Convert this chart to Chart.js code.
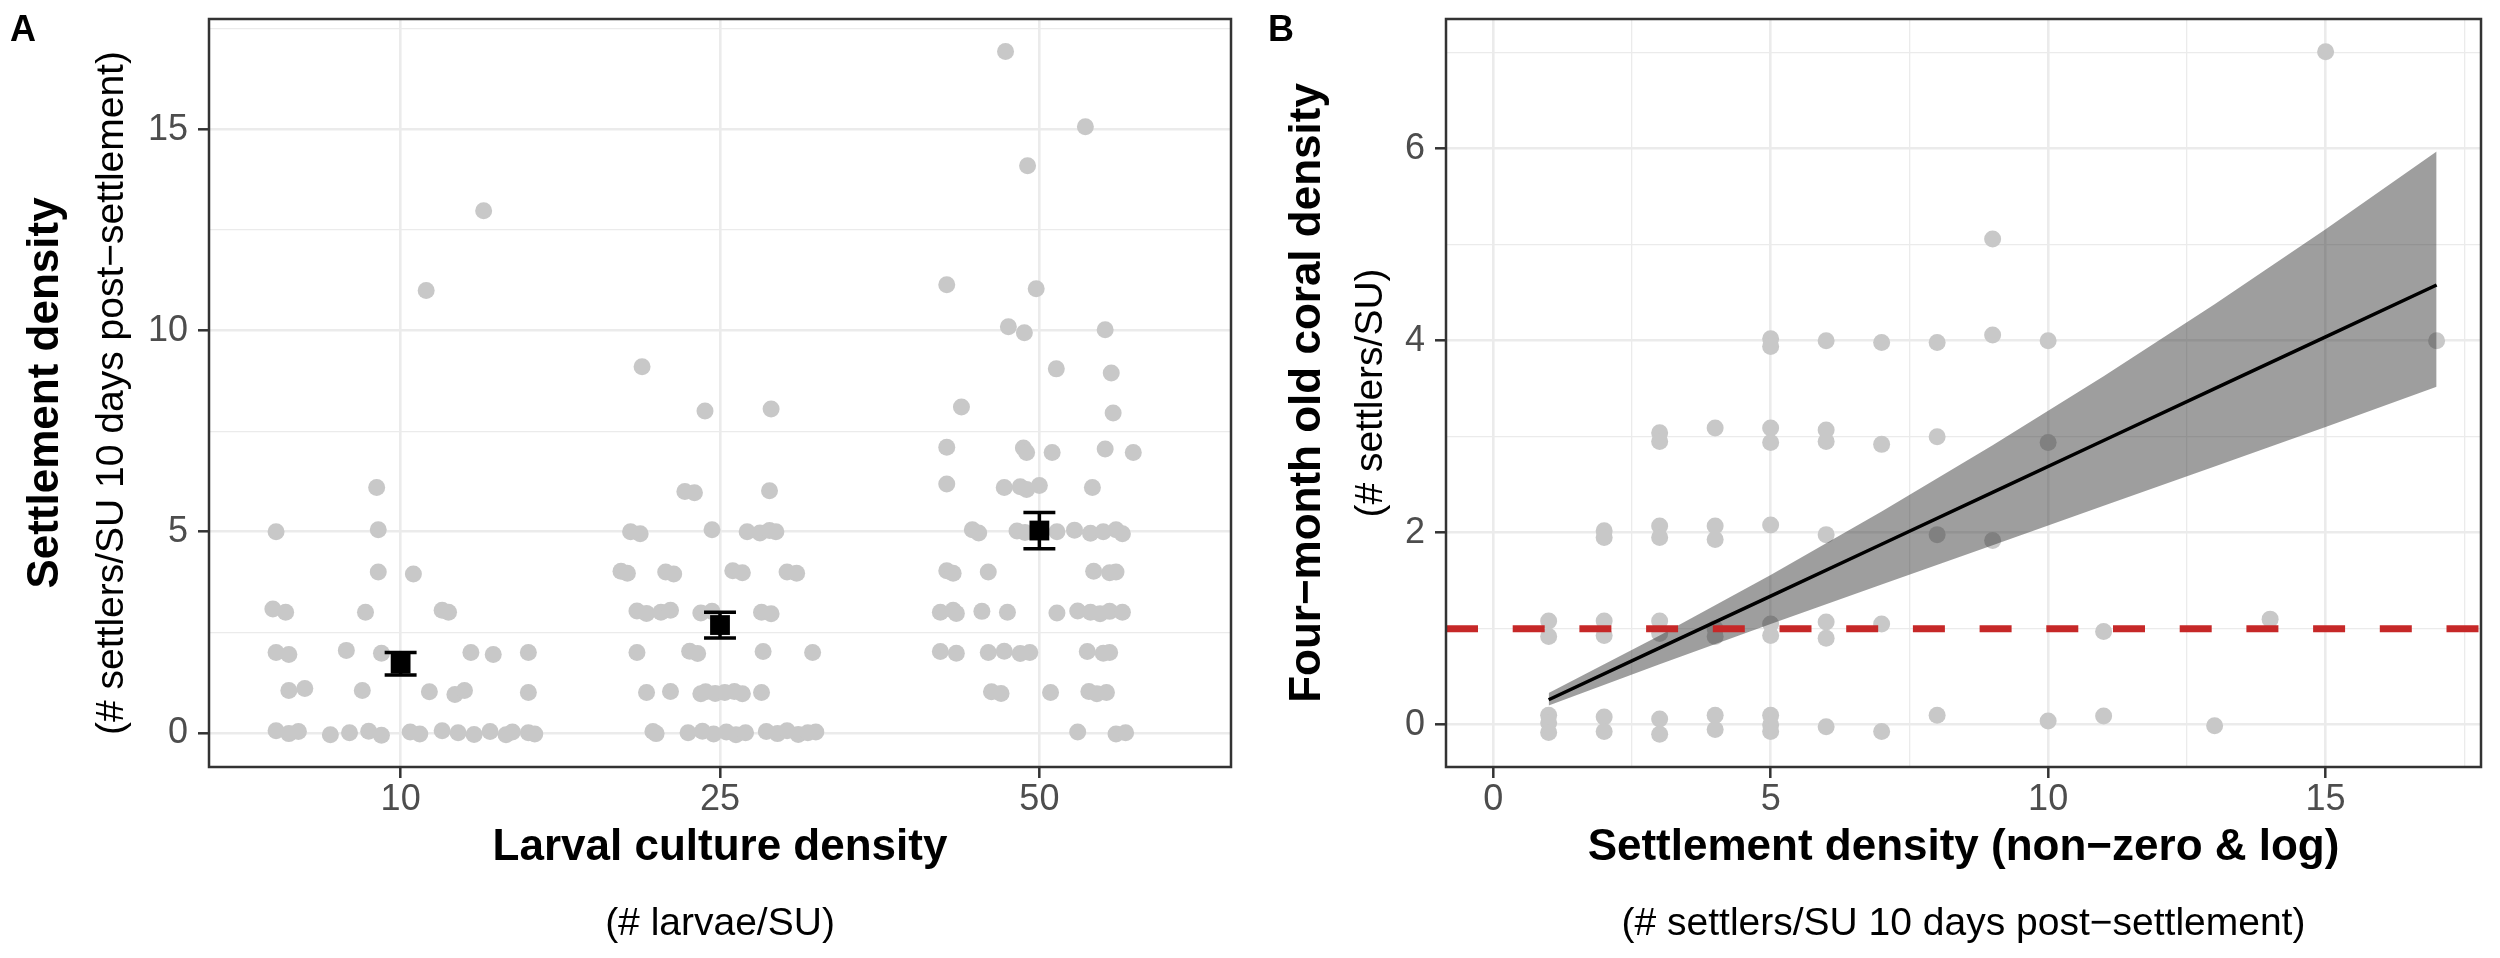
<!DOCTYPE html>
<html><head><meta charset="utf-8">
<script src="https://cdn.jsdelivr.net/npm/chart.js@4.4.1/dist/chart.umd.min.js"></script>
<style>
html,body{margin:0;padding:0;background:#fff;width:2500px;height:958px;overflow:hidden}
canvas{position:absolute;top:0}
#ca{left:0}
#cb{left:1260px}
</style></head><body>
<canvas id="ca" width="1260" height="958"></canvas>
<canvas id="cb" width="1240" height="958"></canvas>
<script>
// ---------- Panel A data ----------
const categories = ['10', '25', '50'];
const g10dx = [0.26, 0.08, -0.075, -0.39, -0.07, -0.07, 0.04, -0.40, -0.36, -0.11, 0.13, 0.15, -0.39, -0.35, -0.17, -0.06, 0.22, 0.29, 0.40, -0.35, -0.30, -0.12, 0.09, 0.17, 0.20, 0.40, -0.39, -0.35, -0.32, -0.22, -0.16, -0.10, -0.06, 0.03, 0.06, 0.13, 0.18, 0.23, 0.28, 0.33, 0.35, 0.40, 0.42];
const g10y  = [12.98, 11.0, 6.1, 5.0, 5.05, 4.0, 3.95, 3.08, 3.0, 3.0, 3.05, 3.0, 2.0, 1.95, 2.05, 1.98, 2.0, 1.95, 2.0, 1.05, 1.1, 1.05, 1.02, 0.95, 1.05, 1.0, 0.05, -0.02, 0.03, -0.05, 0.0, 0.04, -0.06, 0.02, -0.03, 0.05, 0.0, -0.04, 0.03, -0.05, 0.02, 0.0, -0.03];
const g25dx = [-0.244, -0.047, 0.16, -0.11, -0.08, 0.155, -0.28, -0.25, -0.025, 0.085, 0.125, 0.155, 0.175, -0.31, -0.29, -0.17, -0.145, 0.04, 0.07, 0.21, 0.24, -0.26, -0.23, -0.185, -0.155, -0.06, -0.025, 0.13, 0.16, -0.26, -0.095, -0.07, 0.135, 0.29, -0.23, -0.155, -0.06, -0.045, -0.015, 0.015, 0.045, 0.07, 0.13, -0.21, -0.2, -0.1, -0.055, -0.02, 0.02, 0.05, 0.08, 0.145, 0.18, 0.21, 0.245, 0.275, 0.3];
const g25y  = [9.1, 8.0, 8.05, 6.0, 5.97, 6.02, 5.0, 4.95, 5.05, 5.0, 4.97, 5.03, 5.0, 4.02, 3.97, 4.0, 3.95, 4.03, 3.98, 4.0, 3.97, 3.03, 2.97, 3.0, 3.05, 2.98, 3.02, 3.0, 2.96, 2.0, 2.03, 1.97, 2.02, 2.0, 1.0, 1.03, 0.97, 1.02, 0.98, 1.0, 1.03, 0.97, 1.0, 0.03, -0.02, 0.0, 0.04, -0.03, 0.02, -0.05, 0.0, 0.03, -0.02, 0.05, -0.04, 0.0, 0.02];
const g50dx = [-0.106, 0.144, -0.037, -0.29, -0.01, -0.097, -0.047, 0.206, 0.053, 0.225, -0.244, 0.231, -0.29, -0.05, -0.04, 0.04, 0.206, 0.294, -0.29, -0.11, -0.06, -0.04, 0.0, 0.166, -0.21, -0.19, -0.07, -0.045, 0.055, 0.11, 0.16, 0.2, 0.24, 0.26, -0.29, -0.27, -0.16, 0.17, 0.22, 0.24, -0.31, -0.27, -0.26, -0.18, -0.10, 0.055, 0.12, 0.16, 0.19, 0.22, 0.26, -0.31, -0.26, -0.16, -0.11, -0.06, -0.03, 0.15, 0.2, 0.22, -0.15, -0.12, 0.035, 0.155, 0.18, 0.21, 0.12, 0.24, 0.27];
const g50y  = [16.94, 15.07, 14.1, 11.14, 11.04, 10.1, 9.95, 10.02, 9.05, 8.95, 8.1, 7.95, 7.1, 7.08, 6.97, 6.97, 7.06, 6.97, 6.19, 6.1, 6.12, 6.05, 6.15, 6.1, 5.05, 4.97, 5.02, 4.98, 5.0, 5.04, 4.96, 5.0, 5.05, 4.95, 4.03, 3.97, 4.0, 4.02, 3.98, 4.0, 3.0, 3.05, 2.97, 3.02, 3.0, 2.98, 3.03, 3.0, 2.96, 3.02, 3.0, 2.02, 1.98, 2.0, 2.03, 1.97, 2.0, 2.02, 1.98, 2.0, 1.02, 0.98, 1.0, 1.03, 0.97, 1.0, 0.02, -0.03, 0.0];
const meanY = [1.72, 2.68, 5.03];
const seLow = [1.44, 2.36, 4.58];
const seHigh = [2.0, 3.0, 5.48];
const aYTicks = [0, 2.5, 5, 7.5, 10, 12.5, 15, 17.5];
const aYLabels = ['0', '5', '10', '15'];

// ---------- Panel B data ----------
const bx = [1,1,1,1,1, 2,2,2,2,2,2, 3,3,3,3,3,3,3,3, 4,4,4,4,4,4,4, 5,5,5,5,5,5,5,5,5,5, 6,6,6,6,6,6,6, 7,7,7,7, 8,8,8,8, 9,9,9, 10,10,10, 11,11, 13, 14, 15, 17];
const by = [1.08,0.92,0.1,0.02,-0.08, 2.02,1.95,1.08,0.93,0.08,-0.07, 3.04,2.95,2.07,1.95,1.08,0.95,0.06,-0.1, 3.09,2.07,1.93,1.0,0.92,0.1,-0.05, 4.02,3.94,3.09,2.94,2.08,1.05,0.93,0.1,0.0,-0.07, 4.0,3.07,2.95,1.98,1.07,0.9,-0.02, 3.98,2.92,1.05,-0.07, 3.98,3.0,1.98,0.1, 5.06,4.06,1.92, 4.0,2.94,0.04, 0.97,0.09, -0.01, 1.1, 7.01, 4.0];
const fitX = [1, 3, 5, 7, 9, 11, 13, 15, 17];
const fitY = [0.26, 0.80, 1.34, 1.88, 2.42, 2.96, 3.50, 4.04, 4.58];
const ciLow = [0.20, 0.63, 1.05, 1.46, 1.87, 2.28, 2.69, 3.10, 3.52];
const ciHigh = [0.33, 0.93, 1.56, 2.22, 2.91, 3.63, 4.38, 5.16, 5.97];
const threshold = 1;
const bXTicks = [0, 2.5, 5, 7.5, 10, 12.5, 15, 17.5];
const bXLabels = ['0', '5', '10', '15'];
const bYTicks = [0, 1, 2, 3, 4, 5, 6, 7];
const bYLabels = ['0', '2', '4', '6'];

// ---------- styling ----------
const FONT = "'Liberation Sans', Arial, Helvetica, sans-serif";
Chart.defaults.font.family = FONT;
const GRID = '#ebebeb', PT = '#c8c8c8', TICK = '#4d4d4d', FRAME = '#333333';

const framePlugin = {
  id: 'frame',
  afterDraw(chart, args, opts) {
    const {ctx, chartArea: {left, top, right, bottom}} = chart;
    ctx.save();
    ctx.strokeStyle = FRAME; ctx.lineWidth = 2.5;
    ctx.strokeRect(left, top, right - left, bottom - top);
    ctx.fillStyle = '#000';
    ctx.font = 'bold 36px ' + FONT;
    ctx.textBaseline = 'alphabetic';
    ctx.fillText(opts.tag, opts.tagX, opts.tagY);
    ctx.restore();
  }
};

function setTicks(values) { return scale => { scale.ticks = values.map(v => ({value: v})); }; }
function fixW(w) { return s => { s.width = w; }; }
function fixH(h) { return s => { s.height = h; }; }

function gridOpts(isMajor, majorW, minorW) {
  return {
    color: GRID,
    lineWidth: c => (c.tick && isMajor(c.tick.value)) ? majorW : minorW,
    tickColor: c => (c.tick && isMajor(c.tick.value)) ? FRAME : 'rgba(0,0,0,0)',
    tickWidth: 2.5, tickLength: 11, drawTicks: true
  };
}

function titleAxis(pos, text, size, weight, pad, fit) {
  return {
    type: 'linear', position: pos, display: true,
    grid: {display: false, drawTicks: false}, border: {display: false},
    ticks: {display: false},
    title: {display: true, text: text, color: '#000', font: {size: size, weight: weight, family: FONT}, padding: pad},
    afterFit: fit, weight: 10
  };
}

function pts(g, dx, ys) { return dx.map((d, i) => ({x: g + d, y: ys[i]})); }

// ---------- Panel A ----------
const aPoints = pts(1, g10dx, g10y).concat(pts(2, g25dx, g25y), pts(3, g50dx, g50y));
const aMeans = meanY.map((m, i) => ({x: i + 1, y: m}));
const cap = 0.05;
const aErr = [];
meanY.forEach((m, i) => {
  const g = i + 1;
  aErr.push({x: g - cap, y: seHigh[i]}, {x: g + cap, y: seHigh[i]}, {x: g, y: null},
            {x: g, y: seHigh[i]}, {x: g, y: seLow[i]}, {x: g, y: null},
            {x: g - cap, y: seLow[i]}, {x: g + cap, y: seLow[i]}, {x: g, y: null});
});

new Chart(document.getElementById('ca'), {
  type: 'scatter',
  data: {datasets: [
    {type: 'line', data: aErr, borderColor: '#000', borderWidth: 3.5, pointRadius: 0, spanGaps: false, order: 2},
    {data: aMeans, pointStyle: 'rect', pointRadius: 14, pointBackgroundColor: '#000', pointBorderWidth: 0, order: 1},
    {data: aPoints, pointRadius: 8.5, pointBackgroundColor: PT, pointBorderWidth: 0, order: 5}
  ]},
  options: {
    responsive: false, animation: false, devicePixelRatio: 1,
    layout: {padding: {left: 0, top: 19, right: 29, bottom: 0}, autoPadding: false},
    plugins: {legend: {display: false}, tooltip: {enabled: false}, frame: {tag: 'A', tagX: 10, tagY: 41}},
    scales: {
      x: {
        type: 'linear', min: 0.4, max: 3.6, position: 'bottom',
        afterBuildTicks: setTicks([1, 2, 3]),
        ticks: {autoSkip: false, maxRotation: 0, padding: 0, color: TICK, font: {size: 36}, callback: v => categories[Math.round(v) - 1]},
        grid: gridOpts(() => true, 2.6, 2.6), border: {display: false},
        title: {display: true, text: 'Larval culture density', color: '#000', font: {size: 44, weight: 'bold'}, padding: {top: 0, bottom: 3}},
        afterFit: fixH(110)
      },
      x2: titleAxis('bottom', '(# larvae/SU)', 39, 'normal', {top: 0, bottom: 10}, fixH(81)),
      y: {
        type: 'linear', min: -0.85, max: 17.75, position: 'left',
        afterBuildTicks: setTicks(aYTicks),
        ticks: {autoSkip: false, padding: 10, color: TICK, font: {size: 36, lineHeight: 0.5}, callback: v => (v % 5 === 0 ? aYLabels[v / 5] : '')},
        grid: gridOpts(v => v % 5 === 0, 2.6, 1.3), border: {display: false},
        title: {display: true, text: '(# settlers/SU 10 days post\u2212settlement)', color: '#000', font: {size: 39}, padding: {top: 9, bottom: 0}},
        afterFit: fixW(129)
      },
      yT: titleAxis('left', 'Settlement density', 44, 'bold', {top: 19, bottom: 0}, fixW(80))
    }
  },
  plugins: [framePlugin]
});

// ---------- Panel B ----------
const bPoints = bx.map((x, i) => ({x: x, y: by[i]}));
const fitLine = fitX.map((x, i) => ({x: x, y: fitY[i]}));
const lowLine = fitX.map((x, i) => ({x: x, y: ciLow[i]}));
const highLine = fitX.map((x, i) => ({x: x, y: ciHigh[i]}));
const bXMin = -0.85, bXMax = 17.8;
const hLine = [{x: bXMin, y: threshold}, {x: bXMax, y: threshold}];

new Chart(document.getElementById('cb'), {
  type: 'scatter',
  data: {datasets: [
    {type: 'line', data: fitLine, borderColor: '#000', borderWidth: 3.5, pointRadius: 0, fill: false, order: 2},
    {type: 'line', data: lowLine, borderColor: 'rgba(0,0,0,0)', borderWidth: 0, pointRadius: 0, fill: false, order: 3},
    {type: 'line', data: highLine, borderColor: 'rgba(0,0,0,0)', borderWidth: 0, pointRadius: 0, fill: 1, backgroundColor: 'rgba(40,40,40,0.45)', order: 3},
    {type: 'line', data: hLine, borderColor: '#c62828', borderWidth: 7, borderDash: [32, 34.7], borderCapStyle: 'butt', pointRadius: 0, fill: false, order: 1},
    {data: bPoints, pointRadius: 8.5, pointBackgroundColor: PT, pointBorderWidth: 0, order: 5}
  ]},
  options: {
    responsive: false, animation: false, devicePixelRatio: 1,
    layout: {padding: {left: 0, top: 19, right: 19, bottom: 0}, autoPadding: false},
    plugins: {legend: {display: false}, tooltip: {enabled: false}, filler: {propagate: false}, frame: {tag: 'B', tagX: 8, tagY: 41}},
    scales: {
      x: {
        type: 'linear', min: bXMin, max: bXMax, position: 'bottom',
        afterBuildTicks: setTicks(bXTicks),
        ticks: {autoSkip: false, maxRotation: 0, padding: 0, color: TICK, font: {size: 36}, callback: v => (v % 5 === 0 ? bXLabels[v / 5] : '')},
        grid: gridOpts(v => v % 5 === 0, 2.6, 1.3), border: {display: false},
        title: {display: true, text: 'Settlement density (non\u2212zero & log)', color: '#000', font: {size: 44, weight: 'bold'}, padding: {top: 0, bottom: 3}},
        afterFit: fixH(110)
      },
      x2: titleAxis('bottom', '(# settlers/SU 10 days post\u2212settlement)', 39, 'normal', {top: 0, bottom: 10}, fixH(81)),
      y: {
        type: 'linear', min: -0.44, max: 7.35, position: 'left',
        afterBuildTicks: setTicks(bYTicks),
        ticks: {autoSkip: false, padding: 10, color: TICK, font: {size: 36, lineHeight: 0.5}, callback: v => (v % 2 === 0 ? bYLabels[v / 2] : '')},
        grid: gridOpts(v => v % 2 === 0, 2.6, 1.3), border: {display: false},
        title: {display: true, text: '(# settlers/SU)', color: '#000', font: {size: 39}, padding: {top: 8, bottom: 0}},
        afterFit: fixW(106)
      },
      yT: titleAxis('left', 'Four\u2212month old coral density', 44, 'bold', {top: 21, bottom: 0}, fixW(80))
    }
  },
  plugins: [framePlugin]
});
</script>
</body></html>
